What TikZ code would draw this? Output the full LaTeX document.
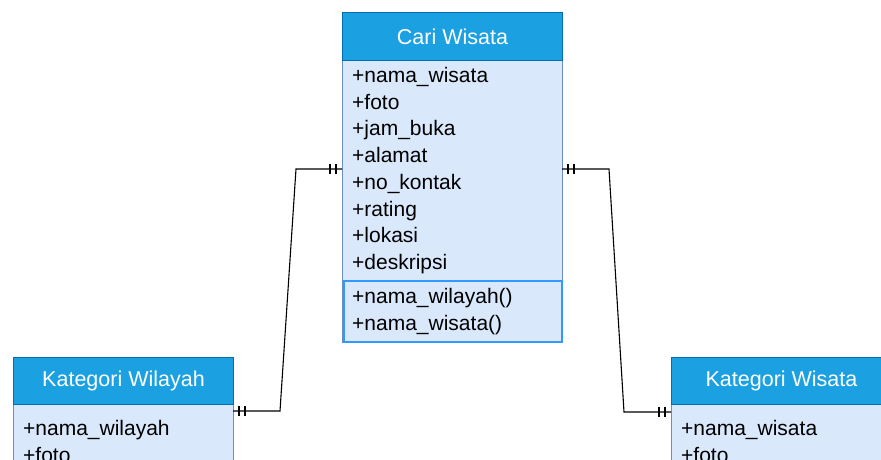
\documentclass[tikz,border=0pt]{standalone}
\usepackage{fontspec}
\setmainfont{Liberation Sans}
\usetikzlibrary{decorations.markings}
\definecolor{hdr}{HTML}{1BA1E2}
\definecolor{hdrline}{HTML}{006EAF}
\definecolor{bodyfill}{HTML}{DAE8FC}
\definecolor{bodyline}{HTML}{6C8EBF}
\definecolor{selline}{HTML}{3399FF}
\tikzset{
  hdrbox/.style={draw=hdrline, fill=hdr, line width=1pt, minimum width=220pt, minimum height=48pt, anchor=north west, inner sep=0pt, text=white, font=\fontsize{21.5}{25}\selectfont},
  bodybox/.style={draw=bodyline, fill=bodyfill, line width=1pt, minimum width=220pt, anchor=north west, inner sep=0pt},
  methbox/.style={draw=selline, line width=1.6pt, minimum width=218pt, anchor=north west, inner sep=0pt},
  attr/.style={anchor=base west, inner sep=0pt, font=\fontsize{21}{25}\selectfont},
  rel/.style={draw=black, line width=1.1pt, postaction={decorate, decoration={markings,
     mark=at position 6pt with {\draw[line width=1.3pt] (0,-5pt)--(0,5pt);},
     mark=at position 12pt with {\draw[line width=1.3pt] (0,-5pt)--(0,5pt);},
     mark=at position -6pt with {\draw[line width=1.3pt] (0,-5pt)--(0,5pt);},
     mark=at position -12pt with {\draw[line width=1.3pt] (0,-5pt)--(0,5pt);}}}}
}
\begin{document}
\begin{tikzpicture}[x=1pt,y=-1pt]
\useasboundingbox (0,0) rectangle (881,459);
\clip (0,0) rectangle (881,459);
% Cari Wisata
\node[bodybox, minimum height=282pt] (cariB) at (342,60) {};
\node[hdrbox] (cariH) at (342,12) {Cari Wisata};
\node[methbox, minimum height=61pt] (cariM) at (343,280) {};
\node[attr] (a1) at (352,82) {+nama\_wisata};
\node[attr] (a2) at (352,109) {+foto};
\node[attr] (a3) at (352,135) {+jam\_buka};
\node[attr] (a4) at (352,162) {+alamat};
\node[attr] (a5) at (352,189) {+no\_kontak};
\node[attr] (a6) at (352,216) {+rating};
\node[attr] (a7) at (352,242) {+lokasi};
\node[attr] (a8) at (352,269) {+deskripsi};
\node[attr] (m1) at (352,303) {+nama\_wilayah()};
\node[attr] (m2) at (352,330) {+nama\_wisata()};
% Kategori Wilayah
\node[bodybox, minimum height=80pt] (wilB) at (13,404) {};
\node[hdrbox, minimum height=47pt] (wilH) at (13,357) {Kategori Wilayah};
\node[attr] (w1) at (23,435) {+nama\_wilayah};
\node[attr] (w2) at (23,462) {+foto};
% Kategori Wisata
\node[bodybox, minimum height=80pt] (wisB) at (671,404) {};
\node[hdrbox, minimum height=47pt] (wisH) at (671,357) {Kategori Wisata};
\node[attr] (s1) at (681,435) {+nama\_wisata};
\node[attr] (s2) at (681,462) {+foto};
% connectors
\coordinate (p1) at (342,169);
\coordinate (p2) at (233,411);
\coordinate (p3) at (562,169);
\coordinate (p4) at (671,412);
\draw[rel] (p1) -- (296,169) -- (280,411) -- (p2);
\draw[rel] (p3) -- (609,169) -- (624,412) -- (p4);
\end{tikzpicture}
\end{document}
